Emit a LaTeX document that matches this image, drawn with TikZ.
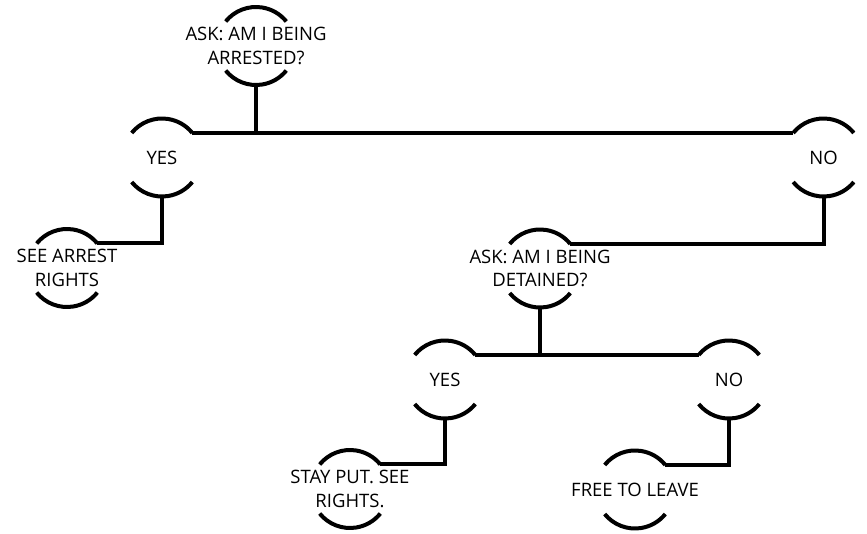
\documentclass[tikz,border=0pt]{standalone}
\usepackage{fontspec}
\setmainfont{Open Sans}
\begin{document}
\begin{tikzpicture}[x=1pt,y=-1pt,
  ring/.style={circle, minimum size=78pt, inner sep=0pt, outer sep=0pt},
  txt/.style={align=center, inner sep=0pt, font=\fontsize{18.5}{23.3}\selectfont},
  wire/.style={line width=4pt, black},
  arcline/.style={line width=4pt, black, line cap=butt}]
\path[use as bounding box, fill=white] (0,0) rectangle (867,534);

% nodes (centres)
\node[ring] (q1)   at (256,46)   {};
\node[ring] (yes1) at (162,157.5) {};
\node[ring] (no1)  at (823.5,157.5) {};
\node[ring] (see)  at (67,268)  {};
\node[ring] (q2)   at (540,268.5) {};
\node[ring] (yes2) at (445,379.5) {};
\node[ring] (no2)  at (729,379.5) {};
\node[ring] (stay) at (350,489)  {};
\node[ring] (free) at (635,489.5) {};

% texts
\node[txt] (q1t)   at (q1)   {ASK: AM I BEING\\ARRESTED?};
\node[txt] (yes1t) at (yes1) {YES};
\node[txt] (no1t)  at (no1)  {NO};
\node[txt] (seet)  at (see)  {SEE ARREST\\RIGHTS};
\node[txt] (q2t)   at (q2)   {ASK: AM I BEING\\DETAINED?};
\node[txt] (yes2t) at (yes2) {YES};
\node[txt] (no2t)  at (no2)  {NO};
\node[txt] (stayt) at (stay) {STAY PUT. SEE\\RIGHTS.};
\node[txt] (freet) at (free) {FREE TO LEAVE};

% arcs
\foreach \n in {q1,yes1,no1,see,q2,yes2,no2,stay,free}{
  \draw[arcline] (\n.141) arc[start angle=141, end angle=39, radius=39pt];
  \draw[arcline] (\n.-141) arc[start angle=-141, end angle=-39, radius=39pt];
}

% connectors
\draw[wire] (q1.south) -- (q1.south |- yes1.39);
\draw[wire] (yes1.39) -- (no1.141);
\draw[wire] (yes1.south) |- (see.39);
\draw[wire] (no1.south) |- (q2.39);
\draw[wire] (q2.south) -- (q2.south |- yes2.39);
\draw[wire] (yes2.39) -- (no2.141);
\draw[wire] (yes2.south) |- (stay.39);
\draw[wire] (no2.south) |- (free.39);
\end{tikzpicture}
\end{document}
